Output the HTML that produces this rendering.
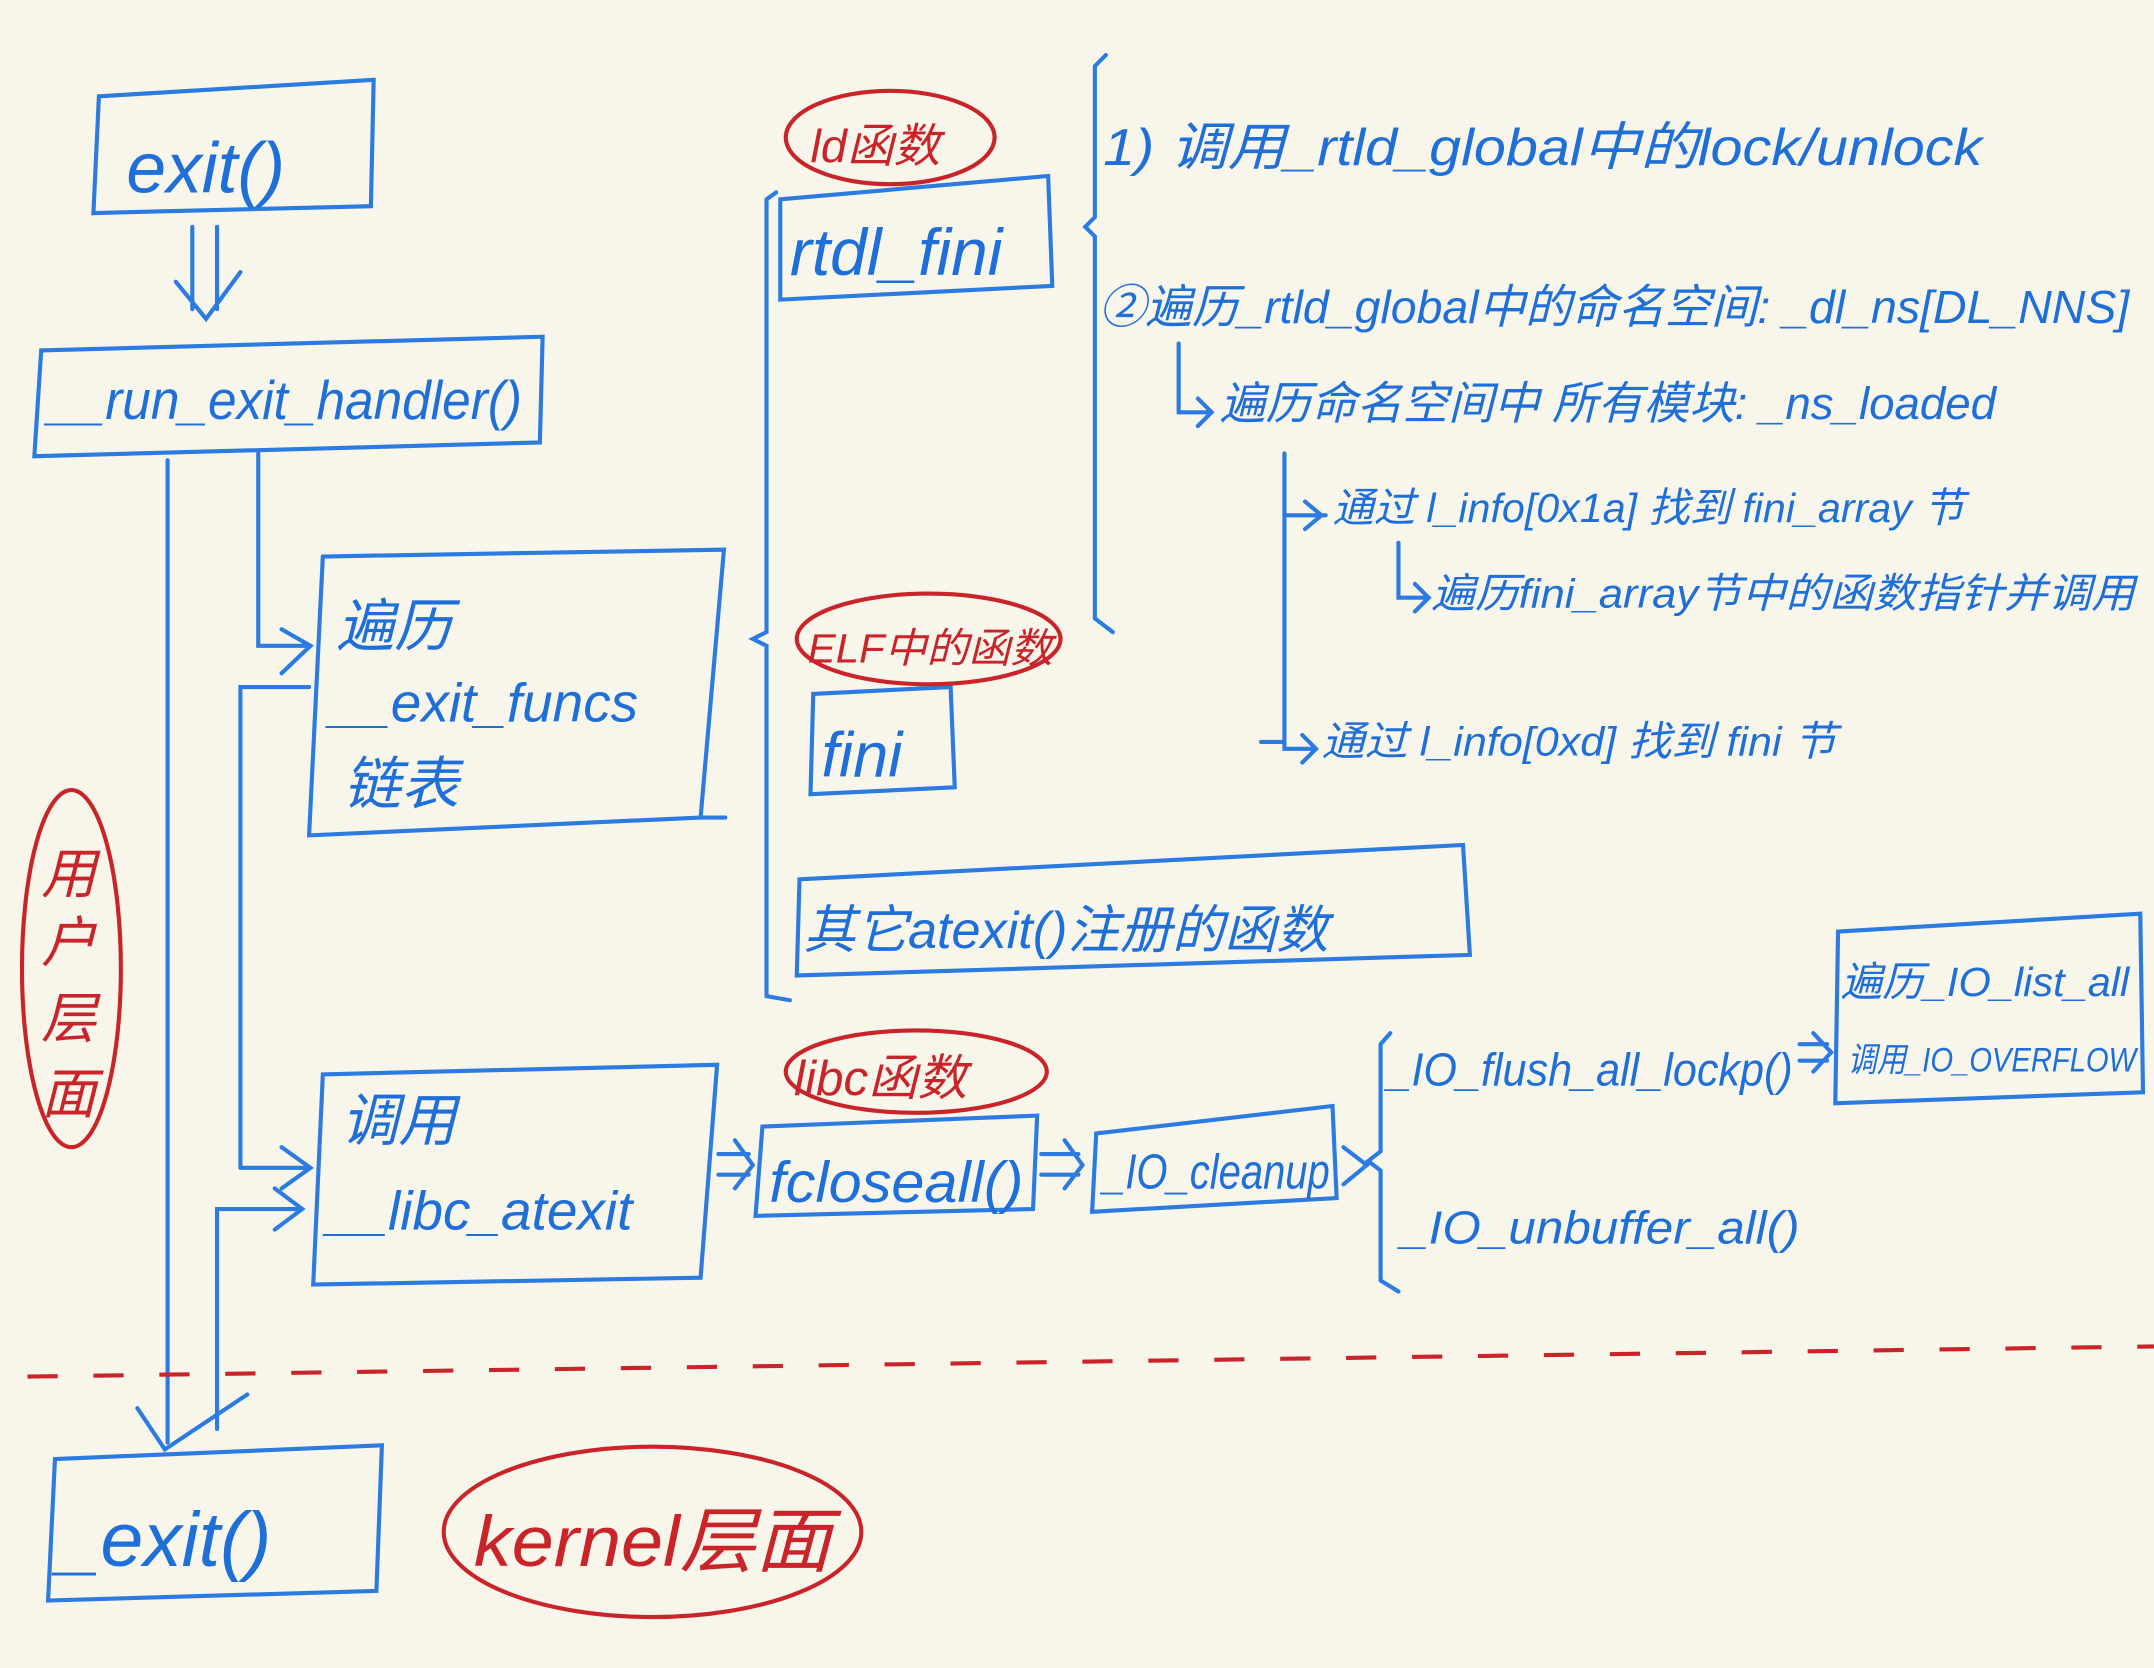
<!DOCTYPE html>
<html><head><meta charset="utf-8"><style>
html,body{margin:0;padding:0;background:#f8f5ea;}
svg{display:block}
text{font-family:"Liberation Sans","Noto Sans CJK SC",sans-serif;font-style:italic;}
.b{fill:#1f6fd8}.r{fill:#c8242a}
</style></head><body>
<svg width="2154" height="1668" viewBox="0 0 1568 1214" xmlns="http://www.w3.org/2000/svg">
<rect width="1568" height="1214" fill="#f8f5ea"/>
<g fill="none" stroke="#2b7be0" stroke-width="3" stroke-linecap="round">
<path d="M72 70 L272 58 L270 150 L68 155 Z"/>
<path d="M140 165 V225 M158 165 V225 M128 205 L150 232 L175 198"/>
<path d="M30 255 L395 245 L393 322 L25 332 Z"/>
<path d="M122 335 V1050 M188 330 V470 H225 M205 458 L226 470 L205 490"/>
<path d="M175 850 V500 H225 M175 850 H225 M205 835 L226 850 L205 865"/>
<path d="M158 1040 V880 H220 M200 865 L220 880 L200 895"/>
<path d="M100 1025 L120 1055 L180 1015"/>
<path d="M235 405 L527 400 L510 595 L528 595 M510 595 L225 608 L235 405"/>
<path d="M235 782 L522 775 L510 930 L228 935 Z"/>
<path d="M565 140 L558 145 V460 L548 465 L558 470 V725 L575 728"/>
<path d="M568 145 L763 128 L766 208 L568 218 Z"/>
<path d="M592 505 L692 500 L695 573 L590 578 Z"/>
<path d="M582 640 L1065 615 L1070 695 L580 710 Z"/>
<path d="M805 40 L797 48 V158 L790 165 L797 172 V450 L810 460"/>
<path d="M858 250 V300 H880 M872 290 L882 300 L872 310"/>
<path d="M935 330 V545 H958 M935 375 H965 M950 365 L962 375 L950 385 M948 535 L958 545 L948 555 M918 540 H935"/>
<path d="M1018 395 V435 H1040 M1030 425 L1040 435 L1030 445"/>
<path d="M523 840 H545 M523 855 H545 M535 830 L548 848 L535 865"/>
<path d="M555 820 L755 812 L752 880 L550 885 Z"/>
<path d="M758 840 H785 M758 855 H785 M775 830 L788 848 L775 865"/>
<path d="M798 825 L970 805 L973 872 L795 882 Z"/>
<path d="M978 835 L995 848 L978 862"/>
<path d="M1012 752 L1005 760 V838 L996 845 L1005 852 V932 L1018 940"/>
<path d="M1310 760 H1330 M1310 772 H1330 M1320 752 L1333 766 L1320 780"/>
<path d="M1338 678 L1558 665 L1560 795 L1336 803 Z"/>
<path d="M40 1062 L278 1052 L274 1158 L35 1165 Z"/>
</g>
<path d="M20 1002 L1568 980" stroke="#c8242a" stroke-width="3" stroke-dasharray="22,26" fill="none"/>
<g fill="none" stroke="#c8242a" stroke-width="3">
<ellipse cx="648" cy="100" rx="76" ry="34"/>
<ellipse cx="676" cy="465" rx="96" ry="33"/>
<ellipse cx="667" cy="780" rx="95" ry="30"/>
<ellipse cx="52" cy="705" rx="36" ry="130"/>
<ellipse cx="475" cy="1115" rx="152" ry="62"/>
</g>
<g class="b">
<text x="92" y="140" font-size="52">exit()</text>
<text x="35" y="305" font-size="40" textLength="345" lengthAdjust="spacingAndGlyphs">__run_exit_handler()</text>
<text x="245" y="470" font-size="42">遍历</text>
<text x="240" y="525" font-size="40">__exit_funcs</text>
<text x="250" y="585" font-size="42">链表</text>
<text x="248" y="830" font-size="42">调用</text>
<text x="238" y="895" font-size="40">__libc_atexit</text>
<text x="575" y="200" font-size="48">rtdl_fini</text>
<text x="598" y="565" font-size="46">fini</text>
<text x="585" y="690" font-size="38">其它atexit()注册的函数</text>
<text x="803" y="120" font-size="38" textLength="640" lengthAdjust="spacingAndGlyphs">1) 调用_rtld_global中的lock/unlock</text>
<text x="800" y="235" font-size="34" textLength="750" lengthAdjust="spacingAndGlyphs">②遍历_rtld_global中的命名空间: _dl_ns[DL_NNS]</text>
<text x="888" y="305" font-size="33" textLength="565" lengthAdjust="spacingAndGlyphs">遍历命名空间中 所有模块: _ns_loaded</text>
<text x="970" y="380" font-size="30" textLength="460" lengthAdjust="spacingAndGlyphs">通过 l_info[0x1a] 找到 fini_array 节</text>
<text x="1042" y="442" font-size="30" textLength="512" lengthAdjust="spacingAndGlyphs">遍历fini_array节中的函数指针并调用</text>
<text x="962" y="550" font-size="30" textLength="375" lengthAdjust="spacingAndGlyphs">通过 l_info[0xd] 找到 fini 节</text>
<text x="560" y="875" font-size="42" textLength="185" lengthAdjust="spacingAndGlyphs">fcloseall()</text>
<text x="803" y="865" font-size="36" textLength="165" lengthAdjust="spacingAndGlyphs">_IO_cleanup</text>
<text x="1010" y="790" font-size="34" textLength="295" lengthAdjust="spacingAndGlyphs">_IO_flush_all_lockp()</text>
<text x="1020" y="905" font-size="34" textLength="290" lengthAdjust="spacingAndGlyphs">_IO_unbuffer_all()</text>
<text x="1340" y="725" font-size="30" textLength="210" lengthAdjust="spacingAndGlyphs">遍历_IO_list_all</text>
<text x="1345" y="780" font-size="25" textLength="210" lengthAdjust="spacingAndGlyphs">调用_IO_OVERFLOW</text>
<text x="42" y="1140" font-size="56">_exit()</text>
</g>
<g class="r">
<text x="590" y="118" font-size="34">ld函数</text>
<text x="588" y="482" font-size="30" textLength="178" lengthAdjust="spacingAndGlyphs">ELF中的函数</text>
<text x="578" y="797" font-size="36">libc函数</text>
<text x="30" y="650" font-size="40">用</text>
<text x="30" y="700" font-size="40">户</text>
<text x="30" y="755" font-size="40">层</text>
<text x="30" y="810" font-size="40">面</text>
<text x="345" y="1140" font-size="52" textLength="260" lengthAdjust="spacingAndGlyphs">kernel层面</text>
</g>
</svg>
</body></html>
